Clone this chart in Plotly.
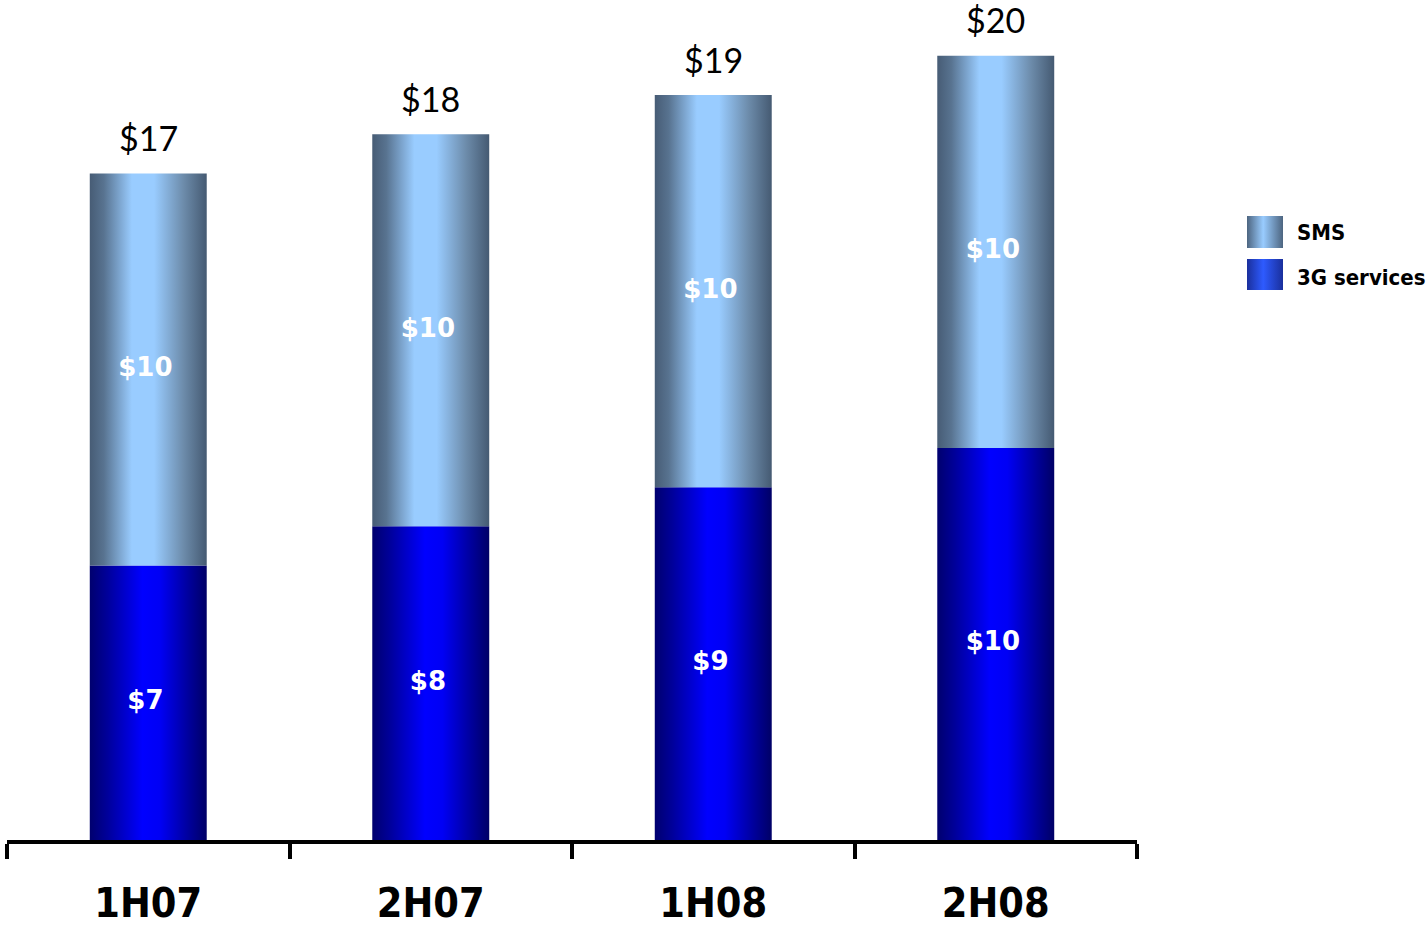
import plotly.graph_objects as go

# Revenue split per half-year (US$)
categories = ["1H07", "2H07", "1H08", "2H08"]
services_3g = [7, 8, 9, 10]
sms = [10, 10, 10, 10]
totals = [17, 18, 19, 20]
series_names = ["SMS", "3G services"]

W, H = 1426, 928
BAR_W = 0.414

SMS_SCALE = [[0, "#475c75"], [0.12, "#587390"], [0.36, "#99ccff"],
             [0.55, "#99ccff"], [0.8, "#6d8cab"], [1, "#455a72"]]
G3_SCALE = [[0, "#00006e"], [0.15, "#00009a"], [0.45, "#0000ff"],
            [0.6, "#0000f5"], [0.85, "#00009a"], [1, "#000066"]]
SMS_KEY = [[0, "#4d6580"], [0.45, "#99ccff"], [1, "#4d6580"]]
G3_KEY = [[0, "#1a2f9c"], [0.45, "#2e5bff"], [1, "#1a2f9c"]]

NUM_FONT = "Lato, Open Sans, sans-serif"
BOLD_COND = "DejaVu Sans Condensed, DejaVu Sans, sans-serif"
BOLD_WIDE = "DejaVu Sans, sans-serif"

fig = go.Figure()


def seg(i, base, value, scale, half=BAR_W / 2):
    x0, x1 = i - half, i + half
    return go.Scatter(
        x=[x0, x1, x1, x0, x0],
        y=[base, base, base + value, base + value, base],
        mode="lines", fill="toself", line=dict(width=0),
        fillgradient=dict(type="horizontal", colorscale=scale, start=x0, stop=x1),
        hoverinfo="skip", showlegend=False,
    )


# stacked bars: 3G services at the bottom, SMS on top
for i in range(len(categories)):
    fig.add_trace(seg(i, 0, services_3g[i], G3_SCALE))
    fig.add_trace(seg(i, services_3g[i], sms[i], SMS_SCALE))

# value labels inside each segment
xs = list(range(len(categories)))
fig.add_trace(go.Scatter(
    x=[x - 0.01 for x in xs + xs],
    y=[v / 2 for v in services_3g] + [b + v / 2 for b, v in zip(services_3g, sms)],
    text=[f"${v}" for v in services_3g] + [f"${v}" for v in sms],
    mode="text", textposition="middle center",
    textfont=dict(family=BOLD_WIDE, size=26, color="white", weight="bold"),
    hoverinfo="skip", showlegend=False,
))

# totals above the bars
for i, t in enumerate(totals):
    fig.add_annotation(x=i, y=t, text=f"${t}", showarrow=False,
                       yanchor="middle", yshift=36,
                       font=dict(family=NUM_FONT, size=34, color="black"))

# legend keys drawn on a small pixel-unit axis
key_rows = [(216, 248, SMS_KEY), (259, 290, G3_KEY)]
for y0, y1, scale in key_rows:
    fig.add_trace(go.Scatter(
        x=[1247, 1283, 1283, 1247, 1247], y=[y0, y0, y1, y1, y0],
        mode="lines", fill="toself", line=dict(width=0),
        fillgradient=dict(type="horizontal", colorscale=scale, start=1247, stop=1283),
        hoverinfo="skip", showlegend=False, xaxis="x2", yaxis="y2",
    ))
for name, yc in zip(series_names, [233, 277]):
    fig.add_annotation(x=1295 / W, y=(840 - yc) / 830, xref="paper", yref="paper",
                       text=name, showarrow=False, xanchor="left", yanchor="middle",
                       font=dict(family=BOLD_COND, size=22, color="black", weight="bold"))

fig.update_layout(
    width=W, height=H,
    margin=dict(l=0, r=0, t=10, b=88, autoexpand=False),
    paper_bgcolor="white", plot_bgcolor="white",
    showlegend=False,
    xaxis=dict(
        domain=[7 / W, 1137 / W], range=[-0.5, 3.5], type="linear",
        automargin=False,
        showline=True, linewidth=4, linecolor="black",
        showgrid=False, zeroline=False,
        tickmode="array", tickvals=xs, ticktext=categories, ticks="",
        tickfont=dict(family=BOLD_COND, size=41, color="black", weight="bold"),
        ticklabelstandoff=24,
        minor=dict(tickmode="array", tickvals=[-0.5, 0.5, 1.5, 2.5, 3.5],
                   ticks="outside", ticklen=15, tickwidth=4, tickcolor="black",
                   showgrid=False),
        fixedrange=True,
    ),
    yaxis=dict(range=[0, 21.17], showgrid=False, zeroline=False, automargin=False,
               showline=False, showticklabels=False, ticks="", fixedrange=True),
    xaxis2=dict(domain=[1247 / W, 1283 / W], range=[1247, 1283], anchor="y2",
                visible=False, fixedrange=True),
    yaxis2=dict(domain=[(840 - 290) / 830, (840 - 216) / 830], range=[290, 216],
                anchor="x2", visible=False, fixedrange=True),
)

fig.write_html("out.html")
